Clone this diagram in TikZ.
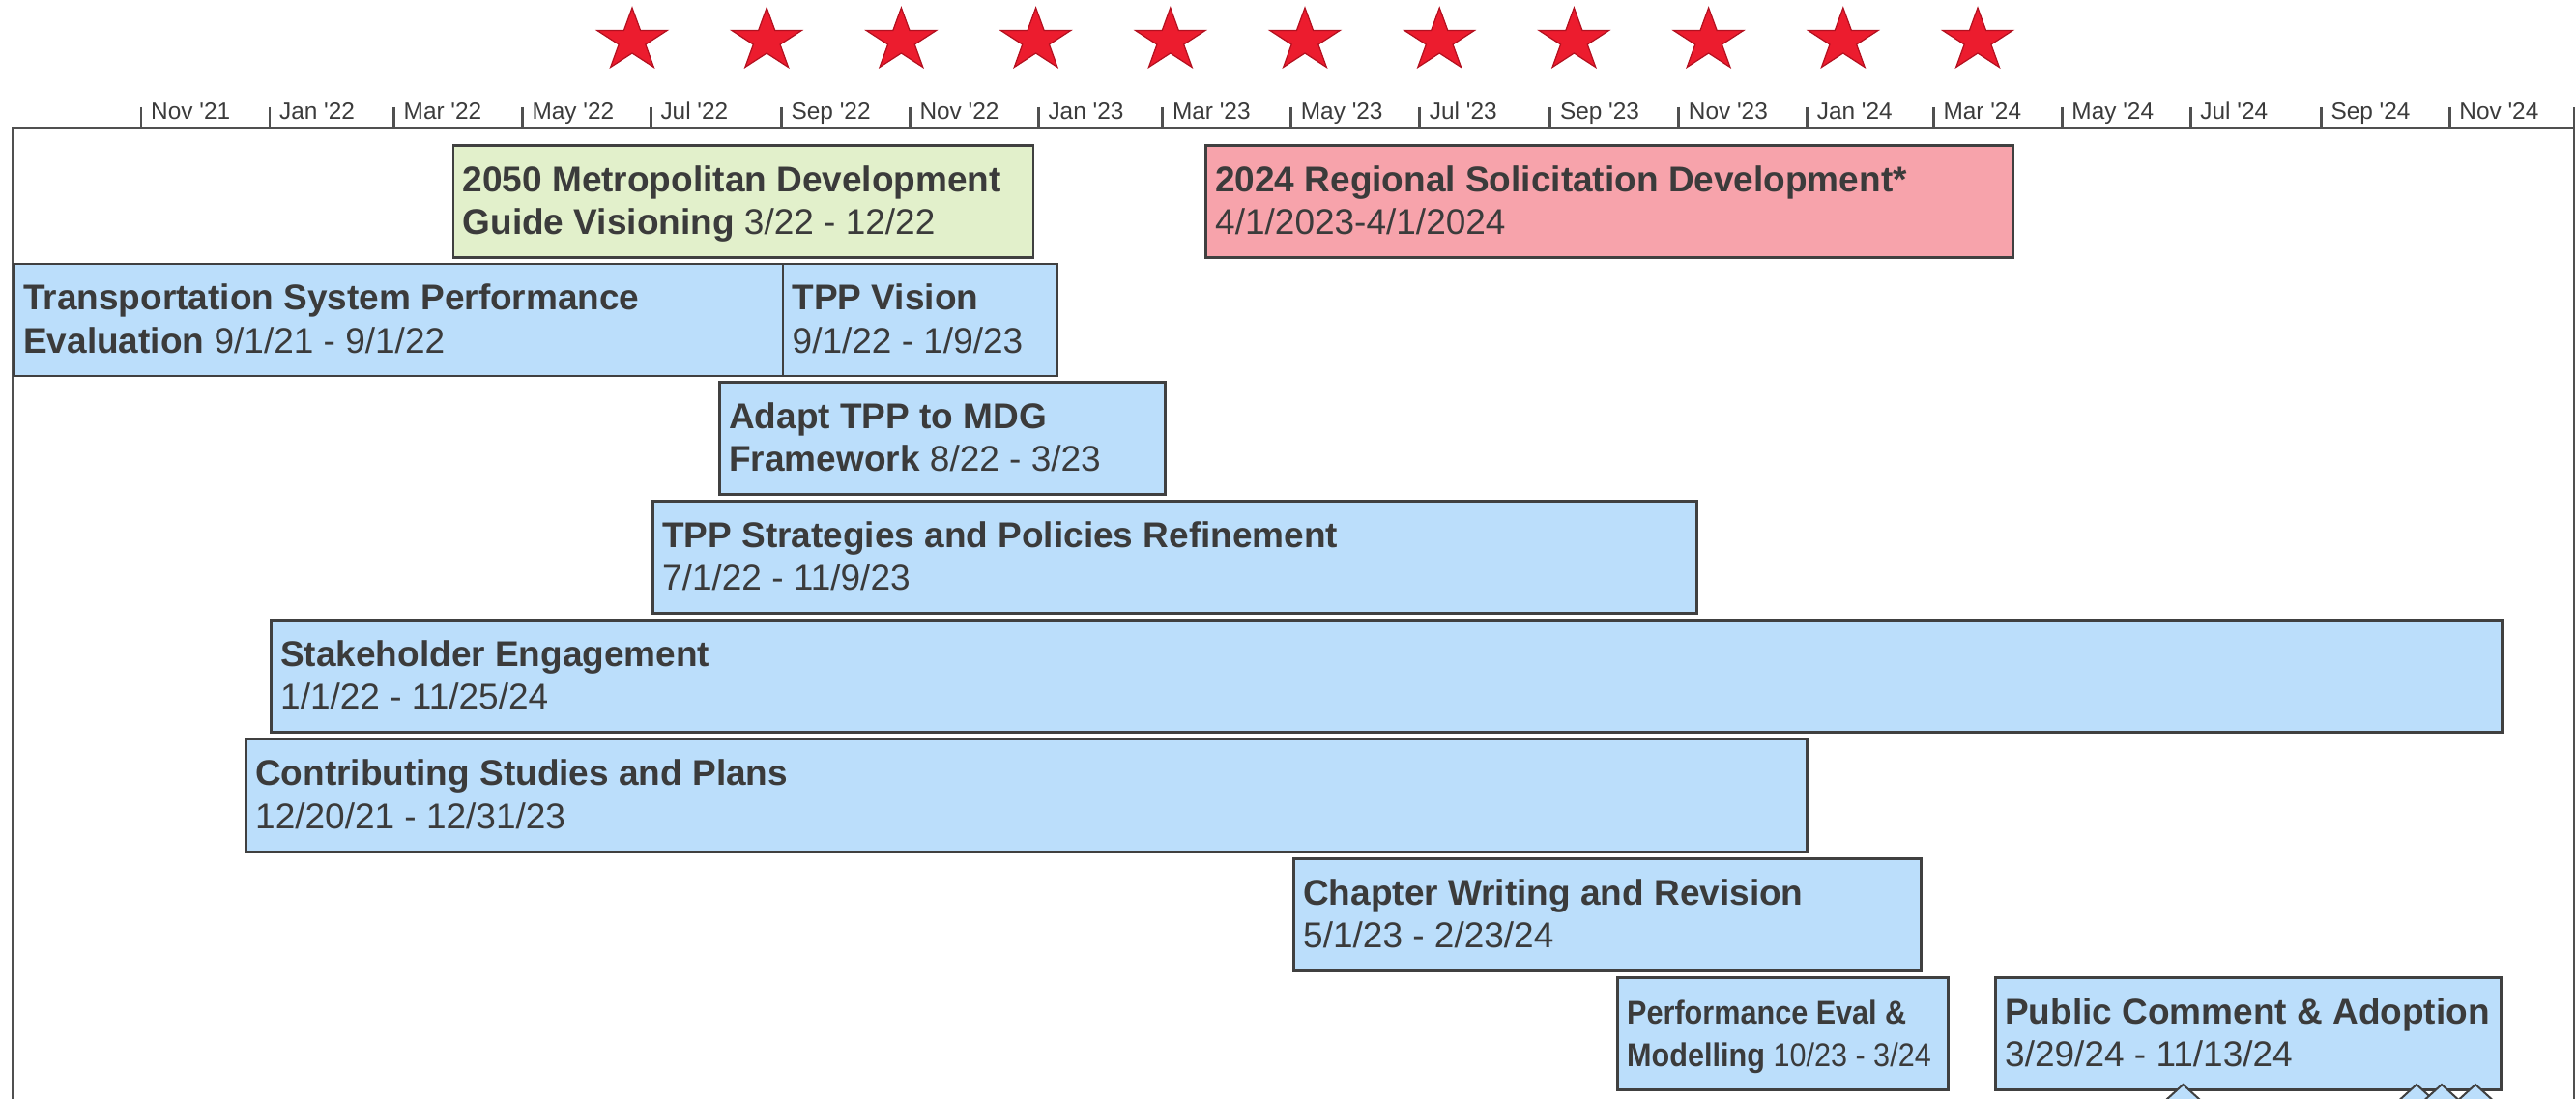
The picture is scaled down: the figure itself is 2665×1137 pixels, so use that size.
\documentclass[tikz,border=0pt]{standalone}
\usepackage{fontspec}
\usepackage{graphicx}
\setmainfont{Liberation Sans}
\usetikzlibrary{calc}
\definecolor{txt}{HTML}{3B3B3B}
\definecolor{edge}{HTML}{404040}
\definecolor{framec}{HTML}{505050}
\definecolor{bluef}{HTML}{BBDEFB}
\definecolor{greenf}{HTML}{E2F0CB}
\definecolor{pinkf}{HTML}{F7A3AB}
\definecolor{starf}{HTML}{EC1C2E}
\definecolor{stard}{HTML}{B3101F}
\tikzset{
  bar/.style={draw=edge, line width=2.5pt, inner sep=0pt, anchor=north west, minimum height=116pt},
  lbl/.style={anchor=base west, inner sep=0pt, text=txt, font=\fontsize{37}{44}\selectfont},
  ticklbl/.style={anchor=base west, inner sep=0pt, text=txt, font=\fontsize{24.4}{28}\selectfont},
  framesty/.style={draw=framec, line width=2.8pt},
  starsty/.style={fill=starf, draw=stard, line width=1.2pt, line join=miter},
  diamsty/.style={fill=bluef, draw=edge, line width=2pt},
}
% name, x1, x2, top, fill, line1, line2
\newcommand\ganttbar[7]{%
  \node[bar, fill=#5, minimum width={#3-#2}] (#1) at (#2,#4) {};
  \node[lbl] (#1-a) at ($(#1.north west)+(11,49)$) {#6};
  \node[lbl] (#1-b) at ($(#1.north west)+(11,93.5)$) {#7};
}
\newcommand\sq{\textquotesingle}
\begin{document}
\begin{tikzpicture}[x=1pt, y=-1pt]
\useasboundingbox (0,0) rectangle (2665,1137);
\clip (0,0) rectangle (2665,1137);
% stars
\foreach \k in {0,...,10}{
  \filldraw[starsty, shift={(654+139.2*\k,42)}, xscale=1.12]
    (-90:34) -- (-54:13) -- (-18:34) -- (18:13) -- (54:34) -- (90:13)
    -- (126:34) -- (162:13) -- (198:34) -- (234:13) -- cycle;
}
% frame and axis
\draw[framesty] (13,1150) -- (13,132) -- (2663,132) -- (2663,1150);
\draw[framesty] (2663,132) -- (2663,111);
\foreach \x/\t [count=\i] in {146/Nov \sq{}21, 278.9/Jan \sq{}22, 407.5/Mar \sq{}22, 540.4/May \sq{}22,
  673.3/Jul \sq{}22, 808.4/Sep \sq{}22, 941.3/Nov \sq{}22, 1074.3/Jan \sq{}23, 1202.8/Mar \sq{}23,
  1335.7/May \sq{}23, 1468.7/Jul \sq{}23, 1603.8/Sep \sq{}23, 1736.7/Nov \sq{}23, 1869.6/Jan \sq{}24,
  2000.3/Mar \sq{}24, 2133.2/May \sq{}24, 2266.2/Jul \sq{}24, 2401.3/Sep \sq{}24, 2534.2/Nov \sq{}24}{
  \coordinate (tk\i) at (\x,111);
  \draw[framesty] (tk\i) -- ++(0,21);
  \node[ticklbl] (tl\i) at ($(tk\i)+(10,12.3)$) {\t};
}
% bars
\ganttbar{mdg}{467.5}{1067.5}{149}{greenf}{\textbf{2050 Metropolitan Development}}{\textbf{Guide Visioning} 3/22 - 12/22}
\ganttbar{rsd}{1246}{2081}{149}{pinkf}{\textbf{2024 Regional Solicitation Development*}}{4/1/2023-4/1/2024}
\ganttbar{tspe}{13}{808.5}{271.5}{bluef}{\textbf{Transportation System Performance}}{\textbf{Evaluation} 9/1/21 - 9/1/22}
\ganttbar{vision}{808.5}{1092}{271.5}{bluef}{\textbf{TPP Vision}}{9/1/22 - 1/9/23}
\ganttbar{adapt}{743}{1204}{394}{bluef}{\textbf{Adapt TPP to MDG}}{\textbf{Framework} 8/22 - 3/23}
\ganttbar{strat}{674}{1754}{517}{bluef}{\textbf{TPP Strategies and Policies Refinement}}{7/1/22 - 11/9/23}
\ganttbar{stake}{279}{2587}{640}{bluef}{\textbf{Stakeholder Engagement}}{1/1/22 - 11/25/24}
\ganttbar{contrib}{253}{1868}{763.5}{bluef}{\textbf{Contributing Studies and Plans}}{12/20/21 - 12/31/23}
\ganttbar{chap}{1337}{1986}{887}{bluef}{\textbf{Chapter Writing and Revision}}{5/1/23 - 2/23/24}
\ganttbar{perf}{1672}{2014}{1010}{bluef}{\scalebox{0.9}[1]{\fontsize{34}{40}\selectfont\textbf{Performance Eval \&}}}{\scalebox{0.9}[1]{\fontsize{34}{40}\selectfont\textbf{Modelling} 10/23 - 3/24}}
\ganttbar{pub}{2063}{2586}{1010}{bluef}{\textbf{Public Comment \& Adoption}}{3/29/24 - 11/13/24}
% milestone diamonds
\foreach \x in {2258.5,2500,2526,2561}{
  \filldraw[diamsty] (\x,1122) -- (\x+22,1142) -- (\x,1162) -- (\x-22,1142) -- cycle;
}
\end{tikzpicture}
\end{document}
